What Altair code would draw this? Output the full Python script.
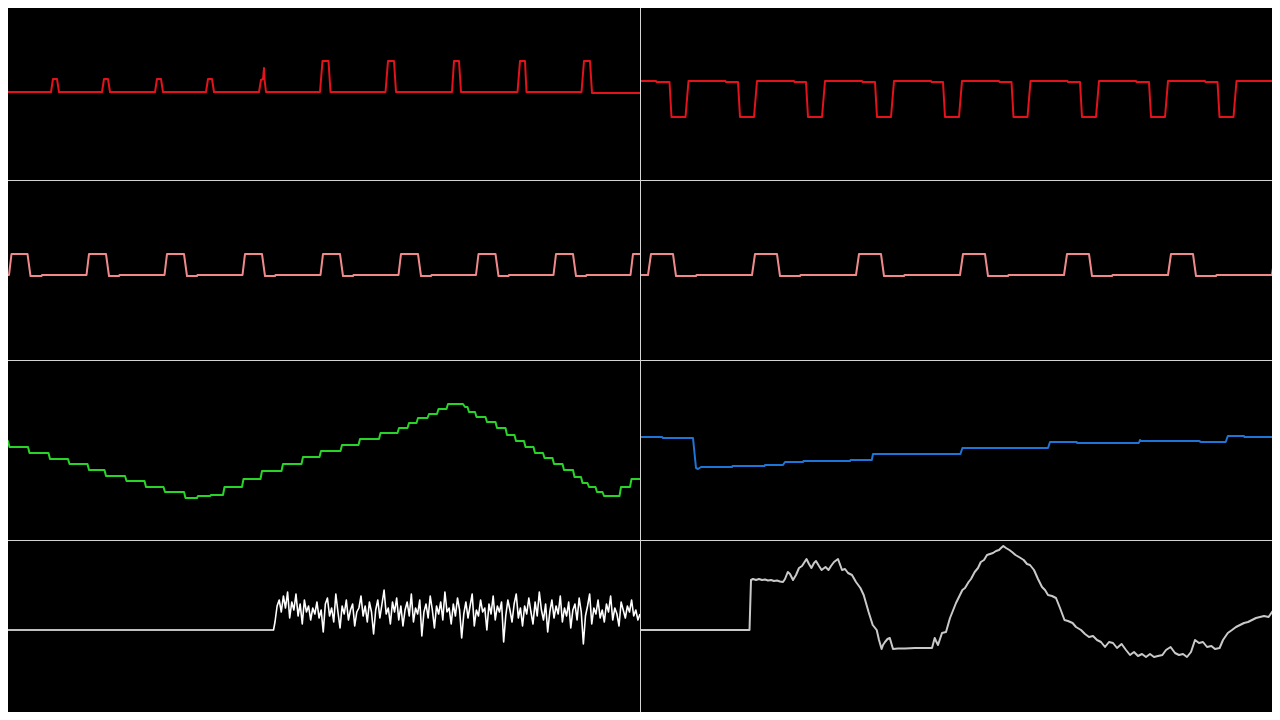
import altair as alt
import pandas as pd

# ---------------- data (t = time position, v = signal level) ----------------
RED_A = [(0, 11), (5, 11), (7.5, -2),
         (51, -2), (53, 11), (57, 11), (59, -2),
         (102, -2), (104, 11), (108, 11), (110, -2),
         (155, -2), (157, 11), (161, 11), (163, -2),
         (206, -2), (208, 11), (212, 11), (214, -2),
         (259, -2), (261, 10), (263, 11), (264, 22), (264.6, 10), (266, -2),
         (320, -2), (322.5, 29), (328.5, 29), (330.5, -2),
         (385.5, -2), (388, 29), (394, 29), (396, -2),
         (452, -2), (454, 29), (459, 29), (461, -2),
         (517.5, -2), (520, 29), (525, 29), (526.5, -2),
         (581.5, -2), (584, 29), (590, 29), (592, -3),
         (640, -3)]

RED_B = [(0, 9), (16, 9), (16.5, 8), (29.5, 8), (31.5, -27), (45.5, -27), (48.5, 9), (85.5, 9), (86, 8),
         (98, 8), (100, -27), (114, -27), (117, 9), (154, 9), (154.5, 8),
         (166, 8), (168, -27), (182, -27), (185, 9), (222, 9), (222.5, 8),
         (235, 8), (237, -27), (251, -27), (254, 9), (291, 9), (291.5, 8),
         (303, 8), (305, -27), (319, -27), (322, 9), (359, 9), (359.5, 8),
         (371.5, 8), (373.5, -27), (387.5, -27), (390.5, 9), (427.5, 9), (428, 8),
         (440, 8), (442, -27), (456, -27), (459, 9), (496, 9), (496.5, 8),
         (509, 8), (511, -27), (525, -27), (528, 9), (565, 9), (565.5, 8),
         (577.5, 8), (579.5, -27), (593.5, -27), (596.5, 9), (633.5, 9), (634, 8), (640, 8)]

PINK_A = [(0, -5), (9, -5), (11.5, 16), (27.5, 16), (30.5, -6), (41.5, -6), (42, -5),
          (86.5, -5), (89, 16), (106, 16), (109, -6), (119, -6), (119.5, -5),
          (164.5, -5), (167, 16), (184, 16), (187, -6), (197, -6), (197.5, -5),
          (242.5, -5), (245, 16), (262, 16), (265, -6), (275, -6), (275.5, -5),
          (320.5, -5), (323, 16), (340, 16), (343, -6), (353, -6), (353.5, -5),
          (398.5, -5), (401, 16), (418, 16), (421, -6), (431, -6), (431.5, -5),
          (476, -5), (478.5, 16), (495.5, 16), (498.5, -6), (508.5, -6), (509, -5),
          (553.5, -5), (556, 16), (573, 16), (576, -6), (586, -6), (586.5, -5),
          (630.5, -5), (633, 16), (640, 16)]

PINK_B = [(0, -5), (8, -5), (11, 16), (33, 16), (36, -6), (56, -6), (56.5, -5),
          (112, -5), (115, 16), (137, 16), (140, -6), (160, -6), (160.5, -5),
          (216, -5), (219, 16), (241, 16), (244, -6), (264, -6), (264.5, -5),
          (320, -5), (323, 16), (345, 16), (348, -6), (368, -6), (368.5, -5),
          (424, -5), (427, 16), (449, 16), (452, -6), (472, -6), (472.5, -5),
          (528, -5), (531, 16), (553, 16), (556, -6), (576, -6), (576.5, -5),
          (632, -5), (635, 16), (640, 16)]

GREEN = [(0, 9), (8, 9), (9.5, 3), (28, 3), (29.5, -3), (48.5, -3), (50, -9), (68, -9),
         (69.5, -14), (87.5, -14), (89, -20), (104.5, -20), (106, -26), (125, -26),
         (126.5, -31), (144.5, -31), (146, -37), (163.5, -37), (165, -42), (184, -42),
         (185.5, -48), (197, -48), (198, -46), (210, -46), (211, -45), (223, -45),
         (224.5, -37), (242, -37), (243.5, -29), (260.5, -29), (262, -21), (281.5, -21),
         (283, -14), (301.5, -14), (303, -7), (319.5, -7), (321, -1), (340.5, -1),
         (342, 5), (358.5, 5), (360, 11), (379, 11), (380.5, 17), (397.5, 17),
         (399, 22), (407.5, 22), (409, 27), (416.5, 27), (418, 32), (427.5, 32),
         (429, 36), (437, 36), (438.5, 41), (446.5, 41), (448, 46), (463, 46),
         (465, 43), (467.5, 43), (469, 38), (475, 38), (476.5, 33), (485.5, 33),
         (487, 28), (495.5, 28), (497, 22), (505.5, 22), (507, 15), (514.5, 15),
         (516, 9), (524, 9), (525.5, 3), (533.5, 3), (535, -3), (543, -3),
         (544.5, -8), (552.5, -8), (554, -14), (562.5, -14), (564, -20), (573, -20),
         (574.5, -27), (581, -27), (582.5, -33), (587.5, -33), (589, -37), (595.5, -37),
         (597, -42), (602.5, -42), (604, -46), (619.5, -46), (621, -37), (630, -37),
         (631.5, -29), (640, -29)]

BLUE = [(0, 13), (22, 13), (23, 12), (53, 12), (56, -18), (58, -19), (61, -17), (92, -17),
        (92.5, -16), (124.5, -16), (125, -15), (143, -15), (145, -12), (163, -12),
        (163.5, -11), (210, -11), (210.5, -10), (231.8, -10), (233, -4), (320.4, -4),
        (322.4, 2), (408, 2), (410, 8), (436.7, 8), (437.2, 7), (498.8, 7), (500, 10),
        (501, 9), (559, 9), (561, 8), (585.7, 8), (587.8, 14), (604, 14), (604.5, 13),
        (640, 13)]

WHITE_FLAT = [(0, 0), (273.5, 0)]
WHITE_NOISE = [8, 24, 30, 18, 34, 22, 38, 12, 28, 20, 36, 14, 26, 6, 30, 18, 24, 10, 22, 16,
               28, 12, 20, -2, 26, 32, 14, 22, 8, 36, 18, 2, 24, 16, 30, 10, 20, 26, 4, 18,
               22, 34, 14, 24, 8, 28, 18, -4, 20, 30, 12, 26, 40, 16, 22, 6, 28, 18, 32, 10,
               24, 4, 20, 28, 14, 36, 8, 22, 16, 30, -6, 18, 26, 12, 34, 20, 2, 24, 16, 28,
               10, 38, 18, 22, 6, 26, 14, 32, 20, -8, 16, 28, 12, 24, 36, 4, 20, 14, 30, 18,
               22, 0, 26, 16, 34, 10, 24, 18, 28, -12, 14, 30, 20, 8, 26, 36, 12, 22, 4, 24,
               16, 32, 18, 6, 28, 14, 38, 20, 10, 26, -2, 18, 30, 12, 24, 16, 34, 8, 22, 14,
               28, 2, 20, 26, 10, 32, 18, -14, 14, 24, 36, 6, 22, 16, 30, 12, 20, 8, 26, 18,
               34, 10, 22, 16, 4, 28, 20, 12, 24, 18, 30, 14, 20, 10, 16]

GRAY = [(0, 0), (109.5, 0), (111, 50), (113, 51), (116, 50), (119, 51), (122, 50), (125, 50.5),
        (128, 49.5), (131, 50), (134, 49), (137, 49.5), (140, 48.5), (143, 48), (145, 51),
        (147.8, 58), (150, 56), (153, 50), (156, 55), (159, 62), (162, 64), (166.5, 71),
        (169, 66), (171.4, 62), (174, 67), (176, 69), (179, 64), (181.6, 60), (185.5, 63),
        (188.5, 60), (191, 64), (194, 68), (198, 71), (202, 60), (205, 61), (208, 57),
        (212, 55), (216, 48), (220.4, 42), (223.7, 35), (226, 27), (228.6, 18), (232.7, 5),
        (236.7, 0), (239, -10), (241.6, -19), (243, -15), (245, -12), (247.5, -9),
        (249.8, -8), (253, -19), (258, -18.5), (265, -18.5), (275, -18), (285, -18),
        (292, -18), (294.7, -8), (296, -11), (298, -15), (300, -9), (302, -3), (306, -2),
        (310, 12), (316, 27), (322.4, 40), (325, 42), (328.6, 48), (331, 51), (334.7, 58),
        (338, 62), (340.8, 68), (344, 70), (347, 75), (350, 76), (353, 77), (356, 79),
        (359, 80), (361, 82), (363.3, 84), (366, 82), (369.4, 80), (372, 78), (375.5, 75),
        (379, 73), (383.7, 70), (387, 66), (390, 65), (394, 60), (398, 51), (402, 43),
        (405, 40), (408, 35), (412, 34), (416, 32), (420, 22), (424.5, 10), (428, 9),
        (432.6, 7), (436, 3), (441, 0), (445, -4), (449, -7), (453, -6), (457, -10),
        (461, -12), (465, -17), (469, -12), (473, -13), (477, -18), (481.6, -14),
        (486, -20), (490, -25), (494, -22), (498, -26), (502, -24), (506, -27), (510, -24),
        (514, -27), (518, -26), (522.4, -25), (526, -20), (530.6, -17), (535, -23),
        (539, -25), (543, -24), (547, -27), (551, -22), (555, -10), (559, -13), (563, -12),
        (567, -17), (571.4, -16), (575, -19), (579.6, -18), (583, -10), (587.8, -3),
        (592, 0), (596, 3), (600, 5), (604, 7), (608, 8), (612, 10), (616, 12), (620, 13),
        (624, 14), (628.6, 13), (632, 18), (636.7, 23), (640, 28)]

# ---------------- build ----------------
SEP = "#d4d4d4"
W = 632
ROW_H = [172, 180, 180, 172]
ROW_YDOM = [[-90, 82], [-90, 90], [-90, 90], [-82, 90]]
COL_XDOM = [[8, 640], [0, 632]]


def pairs_df(pairs):
    return pd.DataFrame({"t": [p[0] for p in pairs], "v": [p[1] for p in pairs]})


noise_n = len(WHITE_NOISE)
white_pairs = WHITE_FLAT + [(275 + i * (365 / (noise_n - 1)), v) for i, v in enumerate(WHITE_NOISE)]

panels = [
    [(RED_A, "#e3121b", 2), (RED_B, "#e3121b", 2)],
    [(PINK_A, "#f08a8a", 2), (PINK_B, "#f08a8a", 2)],
    [(GREEN, "#27d427", 2), (BLUE, "#1f74d8", 2)],
    [(white_pairs, "#ffffff", 1.6), (GRAY, "#c9c9c9", 2)],
]

one = pd.DataFrame({"k": [0]})
cells = []
for r in range(4):
    for c in range(2):
        pairs, color, sw = panels[r][c]
        h = ROW_H[r]
        line = alt.Chart(pairs_df(pairs)).mark_line(
            color=color, strokeWidth=sw, clip=True, strokeJoin="round"
        ).encode(
            x=alt.X("t:Q", scale=alt.Scale(domain=COL_XDOM[c], nice=False, zero=False), axis=None),
            y=alt.Y("v:Q", scale=alt.Scale(domain=ROW_YDOM[r], nice=False, zero=False), axis=None),
            order="t:Q",
        )
        layers = [line]
        if r > 0:
            layers.append(alt.Chart(one).mark_rule(color=SEP, strokeWidth=1, clip=True).encode(
                x=alt.value(0), x2=alt.value(W), y=alt.value(0.5)))
        if c == 1:
            layers.append(alt.Chart(one).mark_rule(color=SEP, strokeWidth=1, clip=True).encode(
                x=alt.value(0.5), y=alt.value(0), y2=alt.value(h)))
        cells.append(alt.layer(*layers).properties(width=W, height=h))

chart = alt.concat(*cells, columns=2, spacing=0, bounds="flush").properties(
    background="#000000", padding=0
).configure_view(stroke=None)

chart.save("out.html", embed_options={"renderer": "svg", "actions": False})
